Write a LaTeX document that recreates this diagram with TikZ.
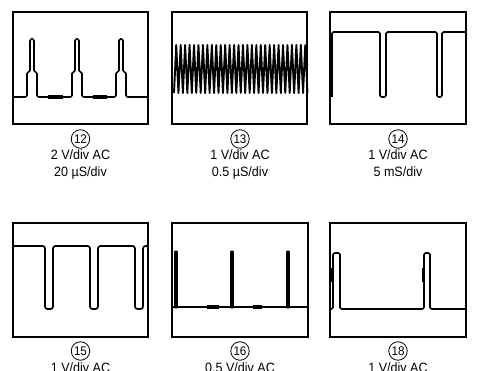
\documentclass[tikz,border=0pt]{standalone}
\usepackage{fontspec}
\setmainfont{Liberation Sans}
\newfontfamily\capfont[FakeStretch=0.93]{Liberation Sans}
\begin{document}
\begin{tikzpicture}[x=1pt,y=-1pt,
  scopebox/.style={line width=1.6pt},
  wave/.style={line width=1.7pt,rounded corners=1.5pt,line join=round},
  thickseg/.style={line width=3.6pt},
  numcircle/.style={draw,circle,line width=0.8pt,minimum size=18.5pt,inner sep=0pt,font=\capfont\fontsize{12.5}{13}\selectfont},
  caption/.style={font=\capfont\fontsize{13.5}{17}\selectfont,align=center,anchor=north,inner sep=0pt}]
\useasboundingbox (0,0) rectangle (477,371);
\clip (0,0) rectangle (477,371);

% ---- boxes
\draw[scopebox] (13,12) rectangle (148,124);
\draw[scopebox] (172,12) rectangle (307,124);
\draw[scopebox] (330,12) rectangle (466,124);
\draw[scopebox] (13,223) rectangle (148,337);
\draw[scopebox] (172,223) rectangle (308,337);
\draw[scopebox] (330,223) rectangle (466,337);

% ---- waveform 12
\draw[wave] (13,97)
  \foreach \c in {32,77,121} { -- (\c-5,97) -- (\c-5,72) -- (\c-2,72) -- (\c-2,39) -- (\c+2,39) -- (\c+2,72) -- (\c+5,72) -- (\c+5,97) }
  -- (148,97);
\draw[thickseg] (48,97) -- (63,97);
\draw[thickseg] (93,97) -- (107,97);

% ---- waveform 13
\draw[line width=1.9pt,line join=round] (174,93)
  \foreach \i in {0,...,29} { -- ({174+\i*4.45+2.22},45) -- ({174+(\i+1)*4.45},93) };

% ---- waveform 14
\draw[wave] (332,97) -- (332,32) -- (380,32) -- (380,97) -- (386,97) -- (386,32)
  -- (437,32) -- (437,97) -- (442,97) -- (442,32) -- (466,32);

% ---- waveform 15
\draw[wave,rounded corners=2.5pt] (13,246)
  \foreach \c in {45,90} { -- (\c,246) -- (\c,309) -- (\c+8,309) -- (\c+8,246) }
  -- (135,246) -- (135,309) -- (143,309) -- (143,246) -- (148,246);

% ---- waveform 16
\draw[wave] (172,307) -- (308,307);
\foreach \x in {176,232,288} {
  \draw[line width=3.2pt,line cap=round] (\x,307) -- (\x,252);
}
\draw[thickseg] (207,307) -- (219,307);
\draw[thickseg] (253,307) -- (262,307);

% ---- waveform 18
\draw[wave] (330,309) -- (333,309) -- (333,253) -- (340,253) -- (340,309)
  -- (424,309) -- (424,253) -- (430,253) -- (430,309) -- (466,309);
\draw[line width=2.6pt] (332.5,268) -- (332.5,282);
\draw[line width=2.6pt] (423.5,268) -- (423.5,282);

% ---- labels
\node[numcircle] (n12) at (80.5,139) {12};
\node[caption] (t12) at (80.5,150) {2 V/div AC\\20 µS/div};
\node[numcircle] (n13) at (240,139) {13};
\node[caption] (t13) at (240,150) {1 V/div AC\\0.5 µS/div};
\node[numcircle] (n14) at (398,139) {14};
\node[caption] (t14) at (398,150) {1 V/div AC\\5 mS/div};
\node[numcircle] (n15) at (80.5,351) {15};
\node[caption] (t15) at (80.5,363) {1 V/div AC};
\node[numcircle] (n16) at (240,351) {16};
\node[caption] (t16) at (240,363) {0.5 V/div AC};
\node[numcircle] (n18) at (398,351) {18};
\node[caption] (t18) at (398,363) {1 V/div AC};
\end{tikzpicture}
\end{document}
